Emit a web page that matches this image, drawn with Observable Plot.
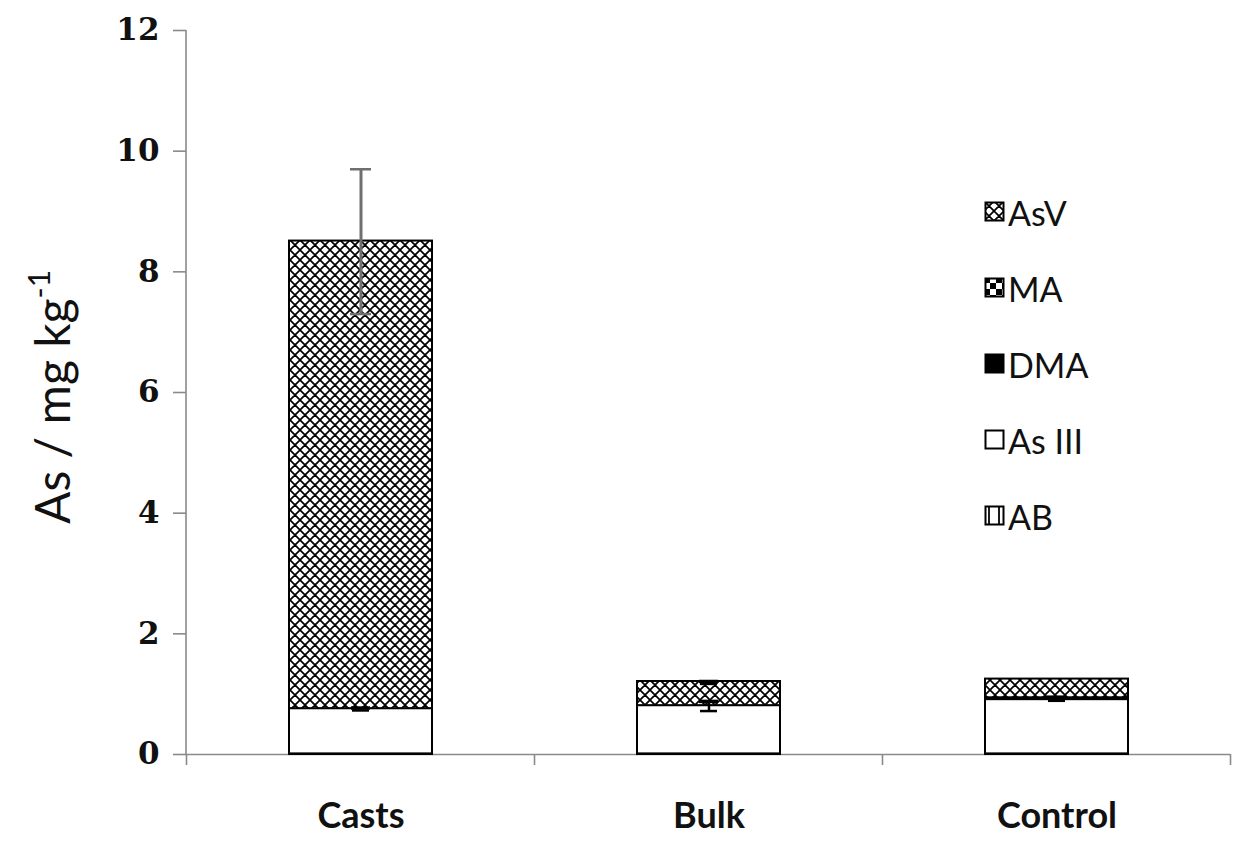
<!DOCTYPE html>
<html><head><meta charset="utf-8">
<script src="https://cdn.jsdelivr.net/npm/d3@7"></script>
<script src="https://cdn.jsdelivr.net/npm/@observablehq/plot@0.6"></script>
<style>
body{margin:0;background:#fff;}
#wrap{position:relative;width:1233px;height:841px;overflow:hidden;}
#defs{position:absolute;width:0;height:0;}
#legend{position:absolute;left:984px;top:174px;font-family:Lato,sans-serif;font-size:34px;color:#111;}
#legend .item{display:flex;align-items:center;height:76px;}
#legend svg{margin-right:2px;}
</style></head><body>
<svg id="defs" width="0" height="0">
  <defs>
    <pattern id="pAsV" patternUnits="userSpaceOnUse" width="10" height="10">
      <rect width="10" height="10" fill="#fff"/>
      <path d="M0,0L10,10M10,0L0,10M-5,5L5,15M5,-5L15,5M-5,5L5,-5M5,15L15,5" stroke="#000" stroke-width="1.7"/>
    </pattern>
    <pattern id="pMA" patternUnits="userSpaceOnUse" width="12" height="12">
      <rect width="12" height="12" fill="#fff"/>
      <rect x="0" y="0" width="6" height="6" fill="#000"/>
      <rect x="6" y="6" width="6" height="6" fill="#000"/>
    </pattern>
    <pattern id="pAB" patternUnits="userSpaceOnUse" width="10" height="10">
      <rect width="10" height="10" fill="#fff"/>
      <path d="M5,0V10" stroke="#000" stroke-width="1.8"/>
    </pattern>
  </defs>
</svg>
<div id="wrap"></div>
<script>
const categories = ["Casts", "Bulk", "Control"];
const species = ["AB", "As III", "DMA", "MA", "AsV"]; // stacked bottom to top
const AB    = [0.01, 0.01, 0.01];
const AsIII = [0.75, 0.80, 0.90];
const DMA   = [0.00, 0.00, 0.03];
const MA    = [0.00, 0.00, 0.00];
const AsV   = [7.75, 0.40, 0.31];
const errCategory = ["Casts", "Casts", "Bulk", "Bulk", "Control"];
const errCenter   = [8.50, 0.75, 1.19, 0.80, 0.92];
const errSD       = [1.20, 0.02, 0.02, 0.08, 0.03];
const errTone     = ["gray", "black", "black", "black", "black"];
const yTicks = [0, 2, 4, 6, 8, 10, 12];
const legendOrder = ["AsV", "MA", "DMA", "As III", "AB"];
const fills = {"AB": "url(#pAB)", "As III": "#fff", "DMA": "#000", "MA": "url(#pMA)", "AsV": "url(#pAsV)"};

const seriesValues = {"AB": AB, "As III": AsIII, "DMA": DMA, "MA": MA, "AsV": AsV};
const rows = [];
categories.forEach((c, i) => species.forEach(s => rows.push({cat: c, species: s, value: seriesValues[s][i]})));
const errs = errCategory.map((c, i) => ({cat: c, lo: errCenter[i] - errSD[i], hi: errCenter[i] + errSD[i], tone: errTone[i]}));

const axisGray = "#8a8a8a";

function frameLines(index, scales, values, dim) {
  const x = scales.x, y = scales.y;
  const bw = typeof x.bandwidth === "function" ? x.bandwidth() : x.bandwidth;
  const step = typeof x.step === "function" ? x.step() : bw;
  const g = d3.create("svg:g").attr("stroke", axisGray).attr("stroke-width", 1.6);
  const y0 = y(0);
  g.append("line").attr("x1", dim.marginLeft).attr("x2", dim.marginLeft)
    .attr("y1", y(12)).attr("y2", y0);
  const bounds = categories.map(c => x(c) - (step - bw) / 2);
  bounds.push(x(categories[categories.length - 1]) + bw + (step - bw) / 2);
  bounds.forEach(b => g.append("line").attr("x1", b).attr("x2", b).attr("y1", y0).attr("y2", y0 + 11));
  return g.node();
}

const plot = Plot.plot({
  width: 1233,
  height: 841,
  marginLeft: 186,
  marginRight: 3,
  marginTop: 30,
  marginBottom: 87,
  style: {background: "#fff", overflow: "visible"},
  x: {domain: categories, paddingInner: 0.59, paddingOuter: 0.295, axis: null},
  y: {domain: [0, 12], axis: null},
  color: {type: "ordinal", domain: species, range: species.map(s => fills[s])},
  marks: [
    Plot.ruleY([0], {stroke: axisGray, strokeWidth: 1.6}),
    frameLines,
    Plot.axisY({ticks: yTicks, tickSize: 13, tickPadding: 14, stroke: axisGray, strokeWidth: 1.6,
      fill: "#111", fontSize: 31, fontFamily: "DejaVu Serif", fontWeight: "bold", label: null}),
    Plot.axisX({tickSize: 0, tickPadding: 48, fill: "#111", fontSize: 36, fontFamily: "Lato",
      fontWeight: "bold", label: null}),
    Plot.barY(rows, {x: "cat", y: "value", fill: "species", order: species, stroke: "#000", strokeWidth: 2}),
    Plot.ruleX(errs.filter(d => d.tone === "gray"), {x: "cat", y1: "lo", y2: "hi", stroke: "#6f6f6f", strokeWidth: 3}),
    Plot.tickY(errs.filter(d => d.tone === "gray"), {x: "cat", y: "hi", stroke: "#6f6f6f", strokeWidth: 2.5, inset: 61}),
    Plot.tickY(errs.filter(d => d.tone === "gray"), {x: "cat", y: "lo", stroke: "#6f6f6f", strokeWidth: 2.5, inset: 61}),
    Plot.ruleX(errs.filter(d => d.tone === "black"), {x: "cat", y1: "lo", y2: "hi", stroke: "#000", strokeWidth: 2.5}),
    Plot.tickY(errs.filter(d => d.tone === "black"), {x: "cat", y: "hi", stroke: "#000", strokeWidth: 3.5, inset: 62}),
    Plot.tickY(errs.filter(d => d.tone === "black"), {x: "cat", y: "lo", stroke: "#000", strokeWidth: 2.5, inset: 63})
  ]
});

const svg = d3.select(plot);
const t = svg.append("text")
  .attr("transform", "translate(70,397) rotate(-90)")
  .attr("text-anchor", "middle")
  .attr("font-family", "Lato")
  .attr("font-size", 48)
  .attr("fill", "#111")
  .text("As / mg kg");
t.append("tspan").attr("font-size", 30).attr("dy", -20).text("-1");

const wrap = document.getElementById("wrap");
wrap.appendChild(plot);

const legend = document.createElement("div");
legend.id = "legend";
legendOrder.forEach(s => {
  const item = document.createElement("div");
  item.className = "item";
  item.innerHTML = `<svg width="22" height="22"><rect x="1.5" y="1.5" width="18" height="18" fill="${fills[s]}" stroke="#000" stroke-width="2"/></svg><span>${s}</span>`;
  legend.appendChild(item);
});
wrap.appendChild(legend);
</script>
</body></html>
